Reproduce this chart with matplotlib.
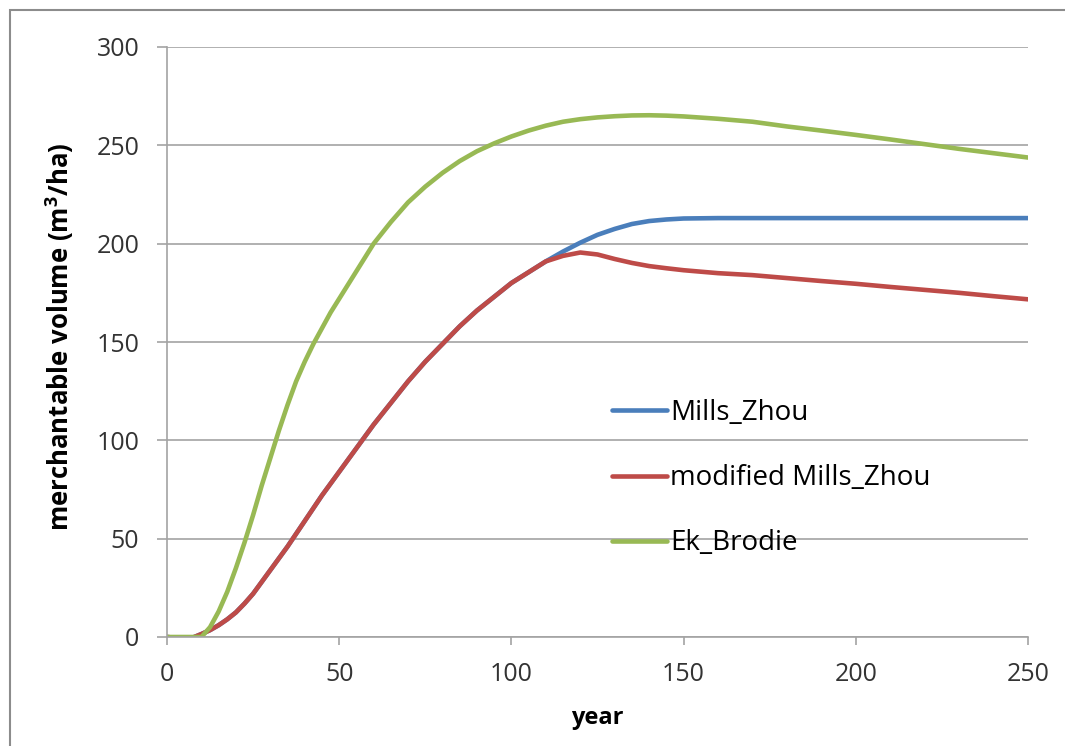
import matplotlib.pyplot as plt
import numpy as np

plt.rcParams['font.family'] = ['Open Sans', 'DejaVu Sans']
plt.rcParams['mathtext.fontset'] = 'custom'
plt.rcParams['mathtext.rm'] = 'Open Sans'
plt.rcParams['mathtext.bf'] = 'Open Sans:bold'

# stand age (years)
years = [0, 2.5, 5, 7.5, 10, 12.5, 15, 17.5, 20, 22.5, 25, 27.5, 30, 32.5, 35, 37.5, 40, 42.5, 45, 47.5,
         50, 55, 60, 65, 70, 75, 80, 85, 90, 95,
         100, 105, 110, 115, 120, 125, 130, 135, 140, 145, 150, 160, 170, 180, 190,
         200, 210, 220, 230, 240, 250]

mills_zhou = [0, -0.4, -0.8, -0.3, 1.5, 3.5, 6, 9, 12.5, 17, 22, 28, 34, 40, 46, 52.5, 59, 65.5, 72, 78,
              84, 96, 108, 119, 130, 140, 149, 158, 166, 173,
              180, 185.5, 191, 196, 200.5, 204.5, 207.5, 210, 211.5, 212.3, 212.8, 213, 213, 213, 213,
              213, 213, 213, 213, 213, 213]

mod_mills_zhou = [0, -0.4, -0.8, -0.3, 1.5, 3.5, 6, 9, 12.5, 17, 22, 28, 34, 40, 46, 52.5, 59, 65.5, 72, 78,
                  84, 96, 108, 119, 130, 140, 149, 158, 166, 173,
                  180, 185.5, 191, 193.8, 195.5, 194.5, 192.2, 190.2, 188.6, 187.5, 186.5, 185, 184, 182.5, 181,
                  179.6, 178, 176.5, 175, 173.3, 171.7]

ek_brodie = [0, 0, 0, 0, 0, 5, 13, 23, 35, 48, 62, 77, 91, 105, 118, 130, 140, 149, 157, 165,
             172, 186, 200, 211, 221, 229, 236, 242, 247, 251,
             254.5, 257.5, 260, 262, 263.3, 264.2, 264.8, 265.2, 265.3, 265.1, 264.7, 263.5, 262, 259.6, 257.5,
             255.3, 253, 250.6, 248.2, 246, 243.8]

series_names = ['Mills_Zhou', 'modified Mills_Zhou', 'Ek_Brodie']
colors = ['#4A7EBB', '#BE4B48', '#98B954']

fig = plt.figure(figsize=(10.65, 7.46), dpi=100)
ax = fig.add_axes([167/1065, 1-637/746, (1028-167)/1065, (637-47)/746])

for vals, name, c in zip([mills_zhou, mod_mills_zhou, ek_brodie], series_names, colors):
    ax.plot(years, vals, color=c, lw=3.3, label=name, solid_capstyle='round', solid_joinstyle='round')

ax.set_xlim(0, 250)
ax.set_ylim(0, 300)
ax.set_xticks(np.arange(0, 251, 50))
ax.set_yticks(np.arange(0, 301, 50))
ax.grid(axis='y', color='#A3A3A3', lw=1.2)
ax.set_axisbelow(True)

for s in ['top', 'right']:
    ax.spines[s].set_visible(False)
for s in ['left', 'bottom']:
    ax.spines[s].set_color('#A3A3A3')
    ax.spines[s].set_linewidth(1.2)

ax.tick_params(axis='y', length=7, width=1.2, color='#A3A3A3', pad=13, labelsize=18, labelcolor='#333333')
ax.tick_params(axis='x', length=6, width=1.2, color='#A3A3A3', pad=12, labelsize=18, labelcolor='#333333')

ax.set_ylabel(r'merchantable volume (m$^\mathbf{3}$/ha)', fontsize=18.5, fontweight='bold')
ax.yaxis.set_label_coords(-0.106, 0.508)
ax.set_xlabel('year', fontsize=17, fontweight='bold', labelpad=14)

ax.legend(loc='upper left', bbox_to_anchor=(612/1065, 1-399/746), bbox_transform=fig.transFigure,
          frameon=False, fontsize=20, handlelength=1.98, handletextpad=0.1, labelspacing=1.34,
          borderpad=0, borderaxespad=0)

# chart frame
fig.add_artist(plt.Rectangle((10/1065, -0.05), 1.0, (746-10)/746 + 0.05, transform=fig.transFigure,
                             fill=False, edgecolor='#8C8C8C', lw=1.5))

fig.savefig('out.png', dpi=100)
